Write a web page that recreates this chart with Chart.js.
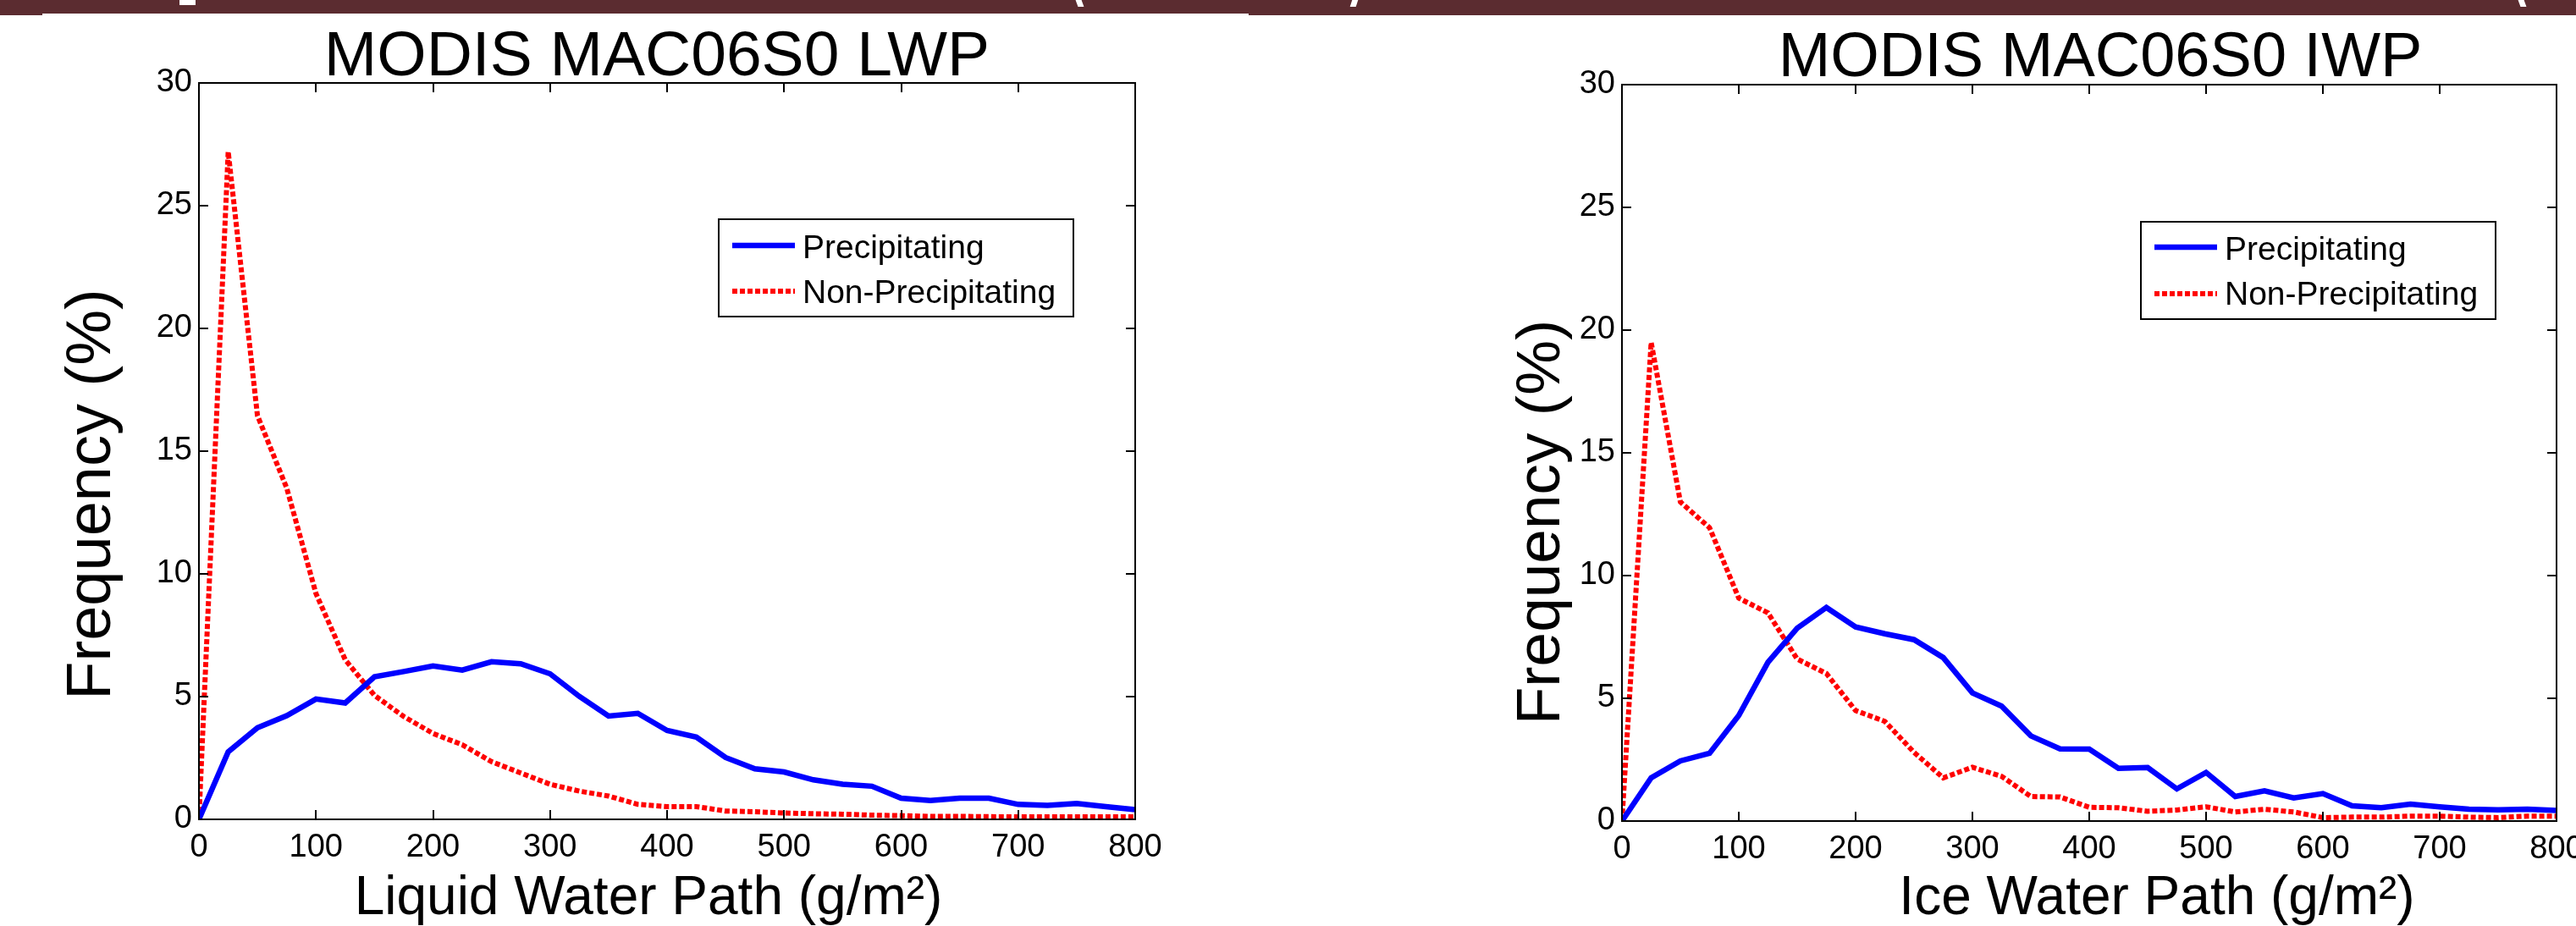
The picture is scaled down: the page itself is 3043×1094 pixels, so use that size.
<!DOCTYPE html>
<html>
<head>
<meta charset="utf-8">
<title>MODIS MAC06S0 LWP / IWP frequency</title>
<script src="https://cdn.jsdelivr.net/npm/chart.js@4.4.1/dist/chart.umd.min.js"></script>
<style>
  html, body { margin: 0; padding: 0; background: #ffffff; }
  body { position: relative; width: 3043px; height: 1094px; overflow: hidden; }
  .band { position: absolute; top: 0; background: #5b2c30; }
  .frag { position: absolute; background: #ffffff; }
  canvas { position: absolute; top: 0; }
</style>
</head>
<body>
<!-- slide header strip -->
<div class="band" style="left:0;width:50px;height:18px"></div>
<div class="band" style="left:50px;width:1425px;height:16px"></div>
<div class="band" style="left:1475px;width:1568px;height:18px"></div>
<div class="frag" style="left:212px;top:0;width:19px;height:6px"></div>
<div class="frag" style="left:1272px;top:0;width:7px;height:8px;transform:skewX(20deg)"></div>
<div class="frag" style="left:1596px;top:0;width:7px;height:8px;transform:skewX(-18deg)"></div>
<div class="frag" style="left:2976px;top:0;width:7px;height:8px;transform:skewX(20deg)"></div>

<canvas id="lwpChart" width="1521" height="1094" style="left:0"></canvas>
<canvas id="iwpChart" width="1600" height="1094" style="left:1521px"></canvas>

<script>
// Water-path bins (g/m^2)
const lwpBins = [0, 25, 50, 75, 100, 125, 150, 175, 200, 225, 250, 275, 300, 325, 350, 375, 400,
                 425, 450, 475, 500, 525, 550, 575, 600, 625, 650, 675, 700, 725, 750, 775, 800];
const iwpBins = [0, 25, 50, 75, 100, 125, 150, 175, 200, 225, 250, 275, 300, 325, 350, 375, 400,
                 425, 450, 475, 500, 525, 550, 575, 600, 625, 650, 675, 700, 725, 750, 775, 800];

// Frequency (%) — liquid water path
const lwpPrecip = [0, 2.75, 3.73, 4.22, 4.90, 4.74, 5.81, 6.02, 6.25, 6.08, 6.42, 6.34, 5.93, 5.01, 4.21, 4.32, 3.62,
                   3.35, 2.52, 2.06, 1.93, 1.61, 1.43, 1.35, 0.86, 0.77, 0.86, 0.86, 0.61, 0.57, 0.65, 0.52, 0.40];
const lwpNonPrecip = [0, 27.2, 16.45, 13.5, 9.2, 6.5, 5.05, 4.19, 3.5, 3.04, 2.35, 1.89, 1.43, 1.15, 0.95, 0.61, 0.52,
                      0.52, 0.34, 0.31, 0.26, 0.23, 0.21, 0.17, 0.15, 0.12, 0.12, 0.11, 0.10, 0.10, 0.10, 0.10, 0.10];

// Frequency (%) — ice water path
const iwpPrecip = [0, 1.76, 2.45, 2.76, 4.30, 6.47, 7.86, 8.70, 7.91, 7.63, 7.39, 6.66, 5.22, 4.68, 3.47, 2.94, 2.93,
                   2.15, 2.18, 1.31, 1.98, 1.00, 1.23, 0.94, 1.12, 0.62, 0.54, 0.69, 0.58, 0.48, 0.46, 0.48, 0.43];
const iwpNonPrecip = [0, 19.5, 13.0, 11.95, 9.08, 8.48, 6.60, 6.01, 4.50, 4.06, 2.80, 1.76, 2.19, 1.82, 1.00, 0.98, 0.56,
                      0.54, 0.40, 0.45, 0.58, 0.37, 0.48, 0.37, 0.14, 0.16, 0.16, 0.20, 0.20, 0.16, 0.14, 0.20, 0.20];

// Axis ticks
const xTickValues = [0, 100, 200, 300, 400, 500, 600, 700, 800];
const yTickValues = [0, 5, 10, 15, 20, 25, 30];
const seriesNames = ['Precipitating', 'Non-Precipitating'];

const FONT = "'Liberation Sans', Arial, Helvetica, sans-serif";
const TICK_LEN = 11;

function points(xs, ys) {
  return xs.map((x, i) => ({ x: x, y: ys[i] }));
}

// Draws the MATLAB-style box, inward ticks on all four sides, title, axis labels and legend.
const decorPlugin = {
  id: 'decor',
  afterDraw(chart, args, o) {
    const ctx = chart.ctx;
    const a = chart.chartArea;
    const xs = chart.scales.x, ys = chart.scales.y;
    ctx.save();

    // frame and ticks
    ctx.strokeStyle = '#000';
    ctx.lineWidth = 2;
    ctx.beginPath();
    xTickValues.forEach(v => {
      const px = Math.round(xs.getPixelForValue(v));
      ctx.moveTo(px, a.bottom); ctx.lineTo(px, a.bottom - TICK_LEN);
      ctx.moveTo(px, a.top); ctx.lineTo(px, a.top + TICK_LEN);
    });
    yTickValues.forEach(v => {
      const py = Math.round(ys.getPixelForValue(v));
      ctx.moveTo(a.left, py); ctx.lineTo(a.left + TICK_LEN, py);
      ctx.moveTo(a.right, py); ctx.lineTo(a.right - TICK_LEN, py);
    });
    ctx.stroke();
    ctx.strokeRect(a.left, a.top, a.right - a.left, a.bottom - a.top);

    ctx.fillStyle = '#000';
    ctx.textBaseline = 'alphabetic';

    // title
    ctx.font = o.titleSize + 'px ' + FONT;
    ctx.textAlign = 'center';
    ctx.fillText(o.title, o.titleX, o.titleY);

    // x-axis label
    ctx.font = o.xLabelSize + 'px ' + FONT;
    ctx.fillText(o.xLabel, o.xLabelX, o.xLabelY);

    // y-axis label (rotated)
    ctx.save();
    ctx.translate(o.yLabelX, o.yLabelY);
    ctx.rotate(-Math.PI / 2);
    ctx.font = o.yLabelSize + 'px ' + FONT;
    ctx.textBaseline = 'middle';
    ctx.fillText(o.yLabel, 0, 0);
    ctx.restore();

    // legend
    const L = o.legend;
    ctx.fillStyle = '#fff';
    ctx.fillRect(L.x, L.y, L.w, L.h);
    ctx.lineWidth = 2;
    ctx.strokeStyle = '#000';
    ctx.strokeRect(L.x, L.y, L.w, L.h);
    chart.data.datasets.forEach((ds, i) => {
      const ly = L.y + L.rowY[i];
      ctx.save();
      ctx.strokeStyle = ds.borderColor;
      ctx.lineWidth = ds.borderWidth;
      ctx.setLineDash(ds.borderDash || []);
      ctx.lineCap = 'butt';
      ctx.beginPath();
      ctx.moveTo(L.x + 16, ly);
      ctx.lineTo(L.x + 90, ly);
      ctx.stroke();
      ctx.restore();
      ctx.fillStyle = '#000';
      ctx.font = L.size + 'px ' + FONT;
      ctx.textAlign = 'left';
      ctx.textBaseline = 'alphabetic';
      ctx.fillText(ds.label, L.x + 99, L.y + L.textY[i]);
    });

    ctx.restore();
  }
};

function makeChart(canvasId, bins, precip, nonPrecip, layout, deco) {
  return new Chart(document.getElementById(canvasId), {
    type: 'line',
    data: {
      datasets: [
        {
          label: seriesNames[0],
          data: points(bins, precip),
          borderColor: '#0000ff',
          borderWidth: 6.5,
          pointRadius: 0,
          tension: 0,
          fill: false
        },
        {
          label: seriesNames[1],
          data: points(bins, nonPrecip),
          borderColor: '#ff0000',
          borderWidth: 6,
          borderDash: [6, 3],
          borderCapStyle: 'butt',
          pointRadius: 0,
          tension: 0,
          fill: false
        }
      ]
    },
    options: {
      responsive: false,
      animation: false,
      events: [],
      layout: { padding: { left: 0, top: layout.top, right: layout.right, bottom: 0 } },
      plugins: {
        legend: { display: false },
        title: { display: false },
        tooltip: { enabled: false },
        decor: deco
      },
      scales: {
        x: {
          type: 'linear',
          min: 0, max: 800,
          afterBuildTicks: s => { s.ticks = xTickValues.map(v => ({ value: v })); },
          afterFit: s => { s.height = layout.xHeight; },
          grid: { display: false, drawTicks: false },
          border: { display: false },
          ticks: {
            color: '#000',
            padding: 11,
            maxRotation: 0,
            autoSkip: false,
            font: { family: FONT, size: 38 }
          }
        },
        y: {
          type: 'linear',
          min: 0, max: 30,
          afterBuildTicks: s => { s.ticks = yTickValues.map(v => ({ value: v })); },
          afterFit: s => { s.width = layout.yWidth; },
          grid: { display: false, drawTicks: false },
          border: { display: false },
          ticks: {
            color: '#000',
            padding: 8,
            font: { family: FONT, size: 38 }
          }
        }
      }
    },
    plugins: [decorPlugin]
  });
}

makeChart('lwpChart', lwpBins, lwpPrecip, lwpNonPrecip,
  { top: 98, right: 1521 - 1341, xHeight: 1094 - 968, yWidth: 235 },
  {
    title: 'MODIS MAC06S0 LWP', titleSize: 75, titleX: 776, titleY: 89,
    xLabel: 'Liquid Water Path (g/m\u00B2)', xLabelSize: 64, xLabelX: 766, xLabelY: 1080,
    yLabel: 'Frequency (%)', yLabelSize: 74, yLabelX: 110, yLabelY: 584,
    legend: { x: 849, y: 259, w: 419, h: 115, size: 39, rowY: [31, 85], textY: [46, 99] }
  });

makeChart('iwpChart', iwpBins, iwpPrecip, iwpNonPrecip,
  { top: 100, right: 1600 - 1499, xHeight: 1094 - 970, yWidth: 395 },
  {
    title: 'MODIS MAC06S0 IWP', titleSize: 74, titleX: 960, titleY: 90,
    xLabel: 'Ice Water Path (g/m\u00B2)', xLabelSize: 64, xLabelX: 1027, xLabelY: 1080,
    yLabel: 'Frequency (%)', yLabelSize: 73, yLabelX: 301, yLabelY: 617,
    legend: { x: 1008, y: 262, w: 419, h: 115, size: 39, rowY: [30, 85], textY: [45, 98] }
  });
</script>
</body>
</html>
